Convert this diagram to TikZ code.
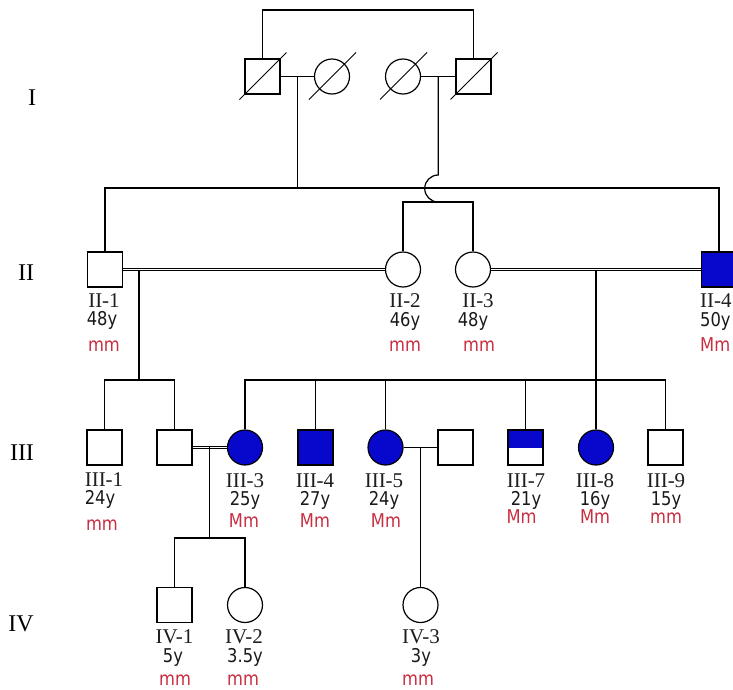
\documentclass[tikz,border=0pt]{standalone}
\usepackage{fontspec}
\setmainfont{Liberation Serif}
\newfontfamily\tahoma[FakeStretch=0.86]{DejaVu Sans}
\definecolor{affblue}{RGB}{8,8,205}
\definecolor{gtred}{RGB}{200,45,65}
\definecolor{idgray}{RGB}{30,30,30}
\begin{document}
\begin{tikzpicture}[x=1pt,y=-1pt,
  ln/.style={line width=1.2pt},
  dbl/.style={double, line width=1.2pt, double distance=1.4pt},
  dec/.style={line width=1pt},
  sq/.style={draw, line width=1.2pt, rectangle, minimum size=35pt, inner sep=0pt},
  ci/.style={draw, line width=1.2pt, circle, minimum size=35pt, inner sep=0pt},
  aff/.style={fill=affblue},
  half/.style={path picture={\fill[affblue] (path picture bounding box.north west) rectangle (path picture bounding box.east);}},
  idl/.style={font=\fontsize{21}{21}\selectfont, text=idgray, inner sep=0pt, anchor=base},
  agel/.style={font=\tahoma\fontsize{19}{19}\selectfont, text=black!90, inner sep=0pt, anchor=base},
  gtl/.style={font=\tahoma\fontsize{19}{19}\selectfont, text=gtred, inner sep=0pt, anchor=base},
  genl/.style={font=\fontsize{24}{24}\selectfont, inner sep=0pt},
]
\useasboundingbox (0,0) rectangle (733,689);
\clip (0,0) rectangle (733,689);

% generation labels
\node[genl] (gI) at (32,98) {I};
\node[genl] (gII) at (26,273) {II};
\node[genl] (gIII) at (22,453) {III};
\node[genl] (gIV) at (21,624) {IV};

% generation I
\node[sq] (I1) at (262.5,76.5) {};
\node[ci] (I2) at (332,76.5) {};
\node[ci] (I3) at (403,76.5) {};
\node[sq] (I4) at (473.5,76.5) {};
\foreach \n in {I1,I2,I3,I4}
  \draw[dec] ([shift={(-23,23)}]\n.center) -- ([shift={(24,-24)}]\n.center);
\coordinate (topL) at (262.5,10);
\draw[ln] (I1.north) -- (topL) -| (I4.north);
\draw[ln] (I1.east) -- (I2.west);
\draw[ln] (I3.east) -- (I4.west);
\coordinate (mI12) at (297.5,76.5);
\coordinate (mI34) at (438.2,76.5);

% generation II
\node[sq] (II1) at (105,269.5) {};
\node[ci] (II2) at (403,269.5) {};
\node[ci] (II3) at (473,269.5) {};
\node[sq,aff] (II4) at (719,269.5) {};
\coordinate (sib2) at (297.5,188);
\coordinate (sib23) at (438.2,202);
\draw[ln] (mI12) -- (sib2);
\draw[ln] (II1.north) |- (sib2) -| (II4.north);
\draw[ln] (mI34) -- (438.2,175) arc[start angle=270, end angle=90, radius=13.5] -- (sib23);
\draw[ln] (II2.north) |- (sib23) -| (II3.north);
\draw[dbl] (II1.east) -- (II2.west);
\draw[dbl] (II3.east) -- (II4.west);
\coordinate (mII12) at (139,269.5);
\coordinate (mII34) at (596,269.5);

\node[idl] (II1id) at (104,307.5) {II-1};
\node[agel] (II1age) at (102,325) {48y};
\node[gtl] (II1gt) at (104,351) {mm};
\node[idl] (II2id) at (405,307.5) {II-2};
\node[agel] (II2age) at (405,326) {46y};
\node[gtl] (II2gt) at (405,351) {mm};
\node[idl] (II3id) at (478,307.5) {II-3};
\node[agel] (II3age) at (473,326) {48y};
\node[gtl] (II3gt) at (479,351) {mm};
\node[idl,anchor=base west] (II4id) at (700,307.5) {II-4};
\node[agel,anchor=base west] (II4age) at (700,326) {50y};
\node[gtl,anchor=base west] (II4gt) at (700,351) {Mm};

% generation III
\node[sq] (III1) at (104.5,447.5) {};
\node[sq] (III2) at (174.5,447.5) {};
\node[ci,aff] (III3) at (245,447.5) {};
\node[sq,aff] (III4) at (315.5,447.5) {};
\node[ci,aff] (III5) at (385.5,447.5) {};
\node[sq] (III6) at (455.5,447.5) {};
\node[sq,half] (III7) at (525.5,447.5) {};
\node[ci,aff] (III8) at (596,447.5) {};
\node[sq] (III9) at (665.5,447.5) {};

\coordinate (sib3a) at (139,380);
\coordinate (sib3b) at (596,380);
\draw[ln] (mII12) -- (sib3a);
\draw[ln] (III1.north) |- (sib3a) -| (III2.north);
\draw[ln] (mII34) -- (III8.north);
\draw[ln] (III3.north) |- (sib3b) -| (III9.north);
\draw[ln] (III4.north) -- (III4.north |- sib3b);
\draw[ln] (III5.north) -- (III5.north |- sib3b);
\draw[ln] (III7.north) -- (III7.north |- sib3b);
\draw[dbl] (III2.east) -- (III3.west);
\draw[ln] (III5.east) -- (III6.west);
\coordinate (mIII23) at (209.5,446);
\coordinate (mIII56) at (420.5,447.5);

\node[idl] (III1id) at (104,486.5) {III-1};
\node[agel] (III1age) at (100,504) {24y};
\node[gtl] (III1gt) at (102,530) {mm};
\node[idl] (III3id) at (245,487) {III-3};
\node[agel] (III3age) at (245,505) {25y};
\node[gtl] (III3gt) at (244,527) {Mm};
\node[idl] (III4id) at (315,487) {III-4};
\node[agel] (III4age) at (315,505) {27y};
\node[gtl] (III4gt) at (315,527) {Mm};
\node[idl] (III5id) at (384,487) {III-5};
\node[agel] (III5age) at (384,505) {24y};
\node[gtl] (III5gt) at (386,527) {Mm};
\node[idl] (III7id) at (526,487) {III-7};
\node[agel] (III7age) at (526,505) {21y};
\node[gtl] (III7gt) at (521.5,523) {Mm};
\node[idl] (III8id) at (595,487) {III-8};
\node[agel] (III8age) at (595,505) {16y};
\node[gtl] (III8gt) at (595,523) {Mm};
\node[idl] (III9id) at (666,487) {III-9};
\node[agel] (III9age) at (666,505) {15y};
\node[gtl] (III9gt) at (666,523) {mm};

% generation IV
\node[sq] (IV1) at (174.5,605) {};
\node[ci] (IV2) at (245,605) {};
\node[ci] (IV3) at (420.5,605) {};
\coordinate (sib4) at (209.5,538);
\draw[ln] (mIII23) -- (sib4);
\draw[ln] (IV1.north) |- (sib4) -| (IV2.north);
\draw[ln] (mIII56) -- (IV3.north);

\node[idl] (IV1id) at (174.5,643.5) {IV-1};
\node[agel] (IV1age) at (173,662) {5y};
\node[gtl] (IV1gt) at (175,685) {mm};
\node[idl] (IV2id) at (244,643.5) {IV-2};
\node[agel] (IV2age) at (245,662) {3.5y};
\node[gtl] (IV2gt) at (243,685) {mm};
\node[idl] (IV3id) at (421,643.5) {IV-3};
\node[agel] (IV3age) at (421,662) {3y};
\node[gtl] (IV3gt) at (418,685) {mm};
\end{tikzpicture}
\end{document}
